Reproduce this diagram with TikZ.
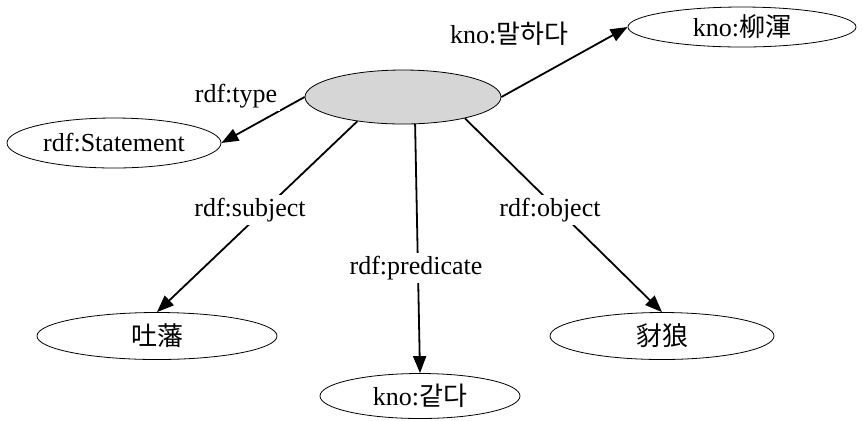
\documentclass[tikz,border=0pt]{standalone}
\usepackage{fontspec}
\setmainfont{Liberation Serif}
\newfontfamily\krfont{Noto Sans CJK KR}
\usetikzlibrary{shapes.geometric,arrows.meta}
\begin{document}
\begin{tikzpicture}[x=0.5pt,y=-0.5pt]
        % Define styles
        \tikzset{
            res/.style={ellipse, draw, thin, inner sep=0pt, font=\fontsize{13}{15}\selectfont},
            rel/.style={-{Triangle[length=8.5pt,width=6.5pt]}, line width=0.9pt},
            lbl/.style={font=\fontsize{13}{15}\selectfont, fill=white, inner sep=1.5pt}
        }
        \useasboundingbox (0,0) rectangle (863,420);
        % The statement (blank node) in the middle
        \node[res, fill=black!16, minimum width=98pt, minimum height=27pt] (stmt) at (403,97) {};
        % Resources round it
        \node[res, minimum width=107pt, minimum height=25pt] (type) at (114,143) {rdf:Statement};
        \node[res, minimum width=114pt, minimum height=20pt] (speaker) at (742,27) {kno:{\krfont 柳渾}};
        \node[res, minimum width=120pt, minimum height=23.5pt] (subj) at (157,336) {{\krfont 吐藩}};
        \node[res, minimum width=100pt, minimum height=22.5pt] (pred) at (420,396) {kno:{\krfont 같다}};
        \node[res, minimum width=112pt, minimum height=23.5pt] (obj) at (662,336) {{\krfont 豺狼}};
        % Edges
        \draw[rel] (stmt.west) -- (type.east);
        \draw[rel] (stmt.east) -- (speaker.west);
        \draw[rel] (stmt.208) -- (subj.north);
        \draw[rel] (stmt.-66) -- (pred.north);
        \draw[rel] (stmt.-19) -- (obj.north);
        % Edge labels on top, so that they break the lines
        \node[lbl] (ltype) at (236,96) {rdf:type};
        \node[lbl] (lsay) at (509,34) {kno:{\krfont 말하다}};
        \node[lbl] (lsubj) at (250,210) {rdf:subject};
        \node[lbl] (lpred) at (416,268) {rdf:predicate};
        \node[lbl] (lobj) at (550,210) {rdf:object};
    \end{tikzpicture}
\end{document}
